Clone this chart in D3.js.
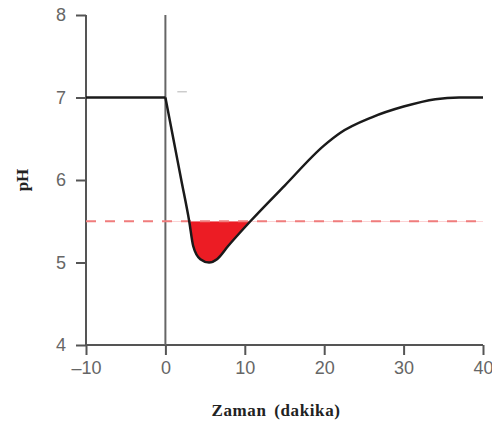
<!DOCTYPE html>
<html>
<head>
<meta charset="utf-8">
<script src="https://cdn.jsdelivr.net/npm/d3@7"></script>
<style>
  body { margin: 0; background: #fff; }
  svg { display: block; }
</style>
</head>
<body>
<svg id="chart" width="492" height="426"></svg>
<script>
const width = 492, height = 426;

// pH over time (minutes)
const baseline = [[-10, 7], [0, 7]];
const response = [
  [0, 7], [1, 6.5], [2, 6.0], [3, 5.5], [3.5, 5.2], [4.4, 5.04], [5.5, 5.0],
  [6.5, 5.04], [7.9, 5.2], [10.7, 5.5], [15, 5.93], [20, 6.42],
  [22, 6.57], [26, 6.76], [30, 6.89], [34, 6.98], [37, 7.0], [40, 7.0]
];
const threshold = 5.5;
const xTicks = [-10, 0, 10, 20, 30, 40];
const yTicks = [4, 5, 6, 7, 8];

const svg = d3.select("#chart");
const m = { left: 86, right: 8, top: 15, bottom: 81 };

const x = d3.scaleLinear().domain([-10, 40]).range([m.left, width - m.right - 1]);
const y = d3.scaleLinear().domain([4, 8]).range([height - m.bottom, m.top]);

const line = d3.line().x(d => x(d[0])).y(d => y(d[1])).curve(d3.curveMonotoneX);
const area = d3.area().x(d => x(d[0])).y0(y(threshold)).y1(d => y(d[1])).curve(d3.curveMonotoneX);

svg.append("clipPath").attr("id", "below")
  .append("rect")
  .attr("x", 0).attr("y", y(threshold))
  .attr("width", width).attr("height", y(4) - y(threshold));

// red region under threshold
svg.append("path")
  .datum(response)
  .attr("clip-path", "url(#below)")
  .attr("fill", "#ec1c24")
  .attr("d", area);

// axes
const axisColor = "#555";
const xAxis = svg.append("g")
  .attr("transform", `translate(0,${y(4)})`)
  .call(d3.axisBottom(x).tickValues(xTicks).tickSize(10).tickPadding(6).tickFormat(d => d < 0 ? "\u2013" + (-d) : d));
const yAxis = svg.append("g")
  .attr("transform", `translate(${x(-10)},0)`)
  .call(d3.axisLeft(y).tickValues(yTicks).tickSize(10).tickPadding(10).tickFormat(d3.format("d")));

[xAxis, yAxis].forEach(a => {
  a.select(".domain").attr("stroke", axisColor).attr("stroke-width", 2);
  a.selectAll(".tick line").attr("stroke", axisColor).attr("stroke-width", 2);
  a.selectAll(".tick text")
    .attr("fill", "#666")
    .style("font-family", "Liberation Sans, Arial, sans-serif")
    .style("font-size", "18px");
});
xAxis.select(".domain").attr("d", `M${x(-10)},0H${x(40)}`);
yAxis.select(".domain").attr("d", `M0,${y(4)}V${y(8)}`);

// vertical reference line at t = 0
svg.append("line")
  .attr("x1", x(0)).attr("x2", x(0))
  .attr("y1", y(8)).attr("y2", y(4))
  .attr("stroke", "#666").attr("stroke-width", 2);

// threshold dashed line
svg.append("line")
  .attr("x1", x(-10)).attr("x2", x(40))
  .attr("y1", y(threshold)).attr("y2", y(threshold))
  .attr("stroke", "#f07c7c").attr("stroke-width", 2)
  .attr("stroke-dasharray", "10,9");

// pH curve
[baseline, response].forEach(s => {
  svg.append("path")
    .datum(s)
    .attr("fill", "none")
    .attr("stroke", "#1a1a1a")
    .attr("stroke-width", 2.5)
    .attr("stroke-linejoin", "round")
    .attr("d", line);
});

// small mark near the corner
svg.append("line")
  .attr("x1", x(1.5)).attr("x2", x(2.7))
  .attr("y1", y(7.07)).attr("y2", y(7.07))
  .attr("stroke", "#ccc").attr("stroke-width", 1.5);

// axis titles
svg.append("text")
  .attr("x", 276).attr("y", 416)
  .attr("text-anchor", "middle")
  .style("font-family", "Liberation Serif, Times New Roman, serif")
  .style("font-weight", "bold")
  .style("font-size", "17px")
  .style("letter-spacing", "0.6px")
  .style("word-spacing", "3px")
  .attr("fill", "#222")
  .text("Zaman (dakika)");

svg.append("text")
  .attr("transform", `translate(28,${y(6)}) rotate(-90)`)
  .attr("text-anchor", "middle")
  .style("font-family", "Liberation Serif, Times New Roman, serif")
  .style("font-weight", "bold")
  .style("font-size", "17px")
  .attr("fill", "#222")
  .text("pH");
</script>
</body>
</html>
